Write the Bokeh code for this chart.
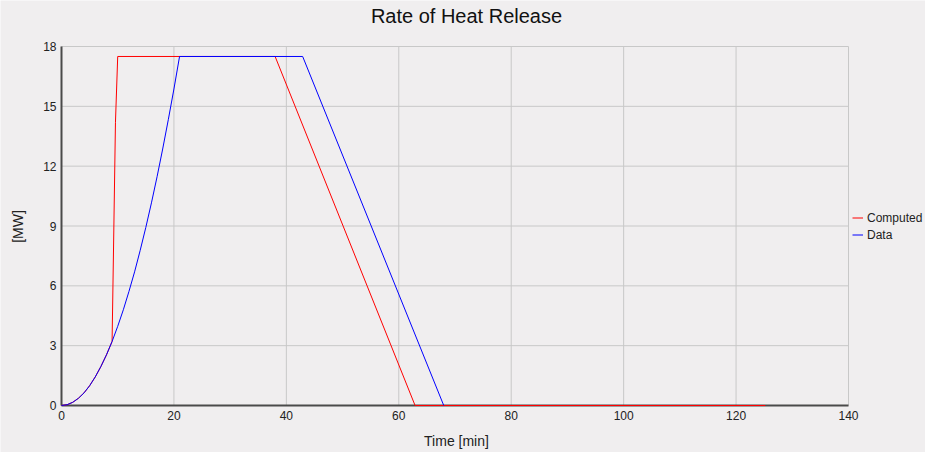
import math
from bokeh.plotting import figure
from bokeh.models import Range1d, Legend, LegendItem, Label
from bokeh.core.properties import value
from bokeh.embed import file_html
from bokeh.resources import INLINE

# ---- data ----
computed_t = [0, 1, 2, 3, 4, 5, 6, 7, 8, 9.0, 9.6, 10.0, 38.0, 62.9, 125.2]
computed_q = [0, 0.04, 0.16, 0.36, 0.63, 0.99, 1.43, 1.95, 2.54, 3.21, 14.2, 17.5, 17.5, 0, 0]

data_t = [0, 1, 2, 3, 4, 5, 6, 7, 8, 9, 10, 11, 12, 13, 14, 15, 16, 17, 18, 19, 20, 21, 42.9, 68.0]
data_q = [0, 0.04, 0.16, 0.36, 0.63, 0.99, 1.43, 1.95, 2.54, 3.21, 3.97, 4.8, 5.72, 6.7, 7.78,
          8.93, 10.16, 11.47, 12.86, 14.33, 15.87, 17.5, 17.5, 0]

x_ticks = [0, 20, 40, 60, 80, 100, 120, 140]
y_ticks = [0, 3, 6, 9, 12, 15, 18]
x_min, x_max = 0, 140
y_min, y_max = 0, 18

title_text = "Rate of Heat Release"
x_label = "Time [min]"
y_label = "[MW]"
series_names = ["Computed", "Data"]
series_colors = ["#FF0000", "#0000FF"]

FONT = "Liberation Sans"
BG = "#F0EEEF"
GRID = "#C8C8C8"
AXIS = "#4A4A4A"
TXT = "#222222"

# ---- layout (pixels); the frame covers the whole figure so no text is clipped ----
W, H = 925, 452
X0_PX, X1_PX = 61, 848      # pixel columns of x_min / x_max
Y0_PX, Y1_PX = 405, 46      # pixel rows of y_min / y_max
px_x = (X1_PX - X0_PX) / (x_max - x_min)
px_y = (Y0_PX - Y1_PX) / (y_max - y_min)
x_range = Range1d(x_min - X0_PX / px_x, x_max + (W - X1_PX) / px_x)
y_range = Range1d(y_min - (H - Y0_PX) / px_y, y_max + Y1_PX / px_y)

p = figure(width=W, height=H, output_backend="svg", toolbar_location=None,
           x_range=x_range, y_range=y_range, min_border=0,
           background_fill_color=BG, border_fill_color=BG, outline_line_color=None)
p.axis.visible = False
p.grid.visible = False

# grid lines over the data area
n_x, n_y = len(x_ticks), len(y_ticks)
p.segment(x0=x_ticks, y0=[y_min] * n_x, x1=x_ticks, y1=[y_max] * n_x,
          line_color=GRID, line_width=1)
p.segment(x0=[x_min] * n_y, y0=y_ticks, x1=[x_max] * n_y, y1=y_ticks,
          line_color=GRID, line_width=1)

# axis lines
p.segment(x0=[x_min, x_min], y0=[y_min, y_min], x1=[x_max, x_min], y1=[y_min, y_max],
          line_color=AXIS, line_width=2)

# data series
r1 = p.line(computed_t, computed_q, line_color=series_colors[0], line_width=1, level="overlay")
r2 = p.line(data_t, data_q, line_color=series_colors[1], line_width=1, level="overlay")

# tick labels
p.text(x=x_ticks, y=[y_min] * n_x, text=[str(t) for t in x_ticks],
       text_font=value(FONT), text_font_size=value("12px"), text_color=TXT,
       text_align="center", text_baseline="middle", y_offset=10)
p.text(x=[x_min] * n_y, y=y_ticks, text=[str(t) for t in y_ticks],
       text_font=value(FONT), text_font_size=value("12px"), text_color=TXT,
       text_align="right", text_baseline="middle", x_offset=-5, y_offset=0)

# title and axis titles
p.add_layout(Label(x=466, y=H - 15, x_units="screen", y_units="screen", text=title_text,
                   text_font=FONT, text_font_size="20px", text_align="center",
                   text_baseline="middle", text_color="#111111"))
p.add_layout(Label(x=456, y=H - 440, x_units="screen", y_units="screen", text=x_label,
                   text_font=FONT, text_font_size="14px", text_align="center",
                   text_baseline="middle", text_color=TXT))
p.add_layout(Label(x=17, y=H - 226, x_units="screen", y_units="screen", text=y_label,
                   angle=math.pi / 2, text_font=FONT, text_font_size="14px",
                   text_align="center", text_baseline="middle", text_color=TXT))

legend = Legend(items=[LegendItem(label=series_names[0], renderers=[r1]),
                       LegendItem(label=series_names[1], renderers=[r2])],
                location=(852, H - 243), orientation="vertical",
                padding=0, margin=0, spacing=0,
                glyph_width=11, glyph_height=17, label_height=17, label_standoff=4,
                label_text_font=FONT, label_text_font_size="12px", label_text_color=TXT,
                border_line_alpha=0, background_fill_alpha=0)
p.add_layout(legend)

open("out.html", "w").write(file_html(p, INLINE))
